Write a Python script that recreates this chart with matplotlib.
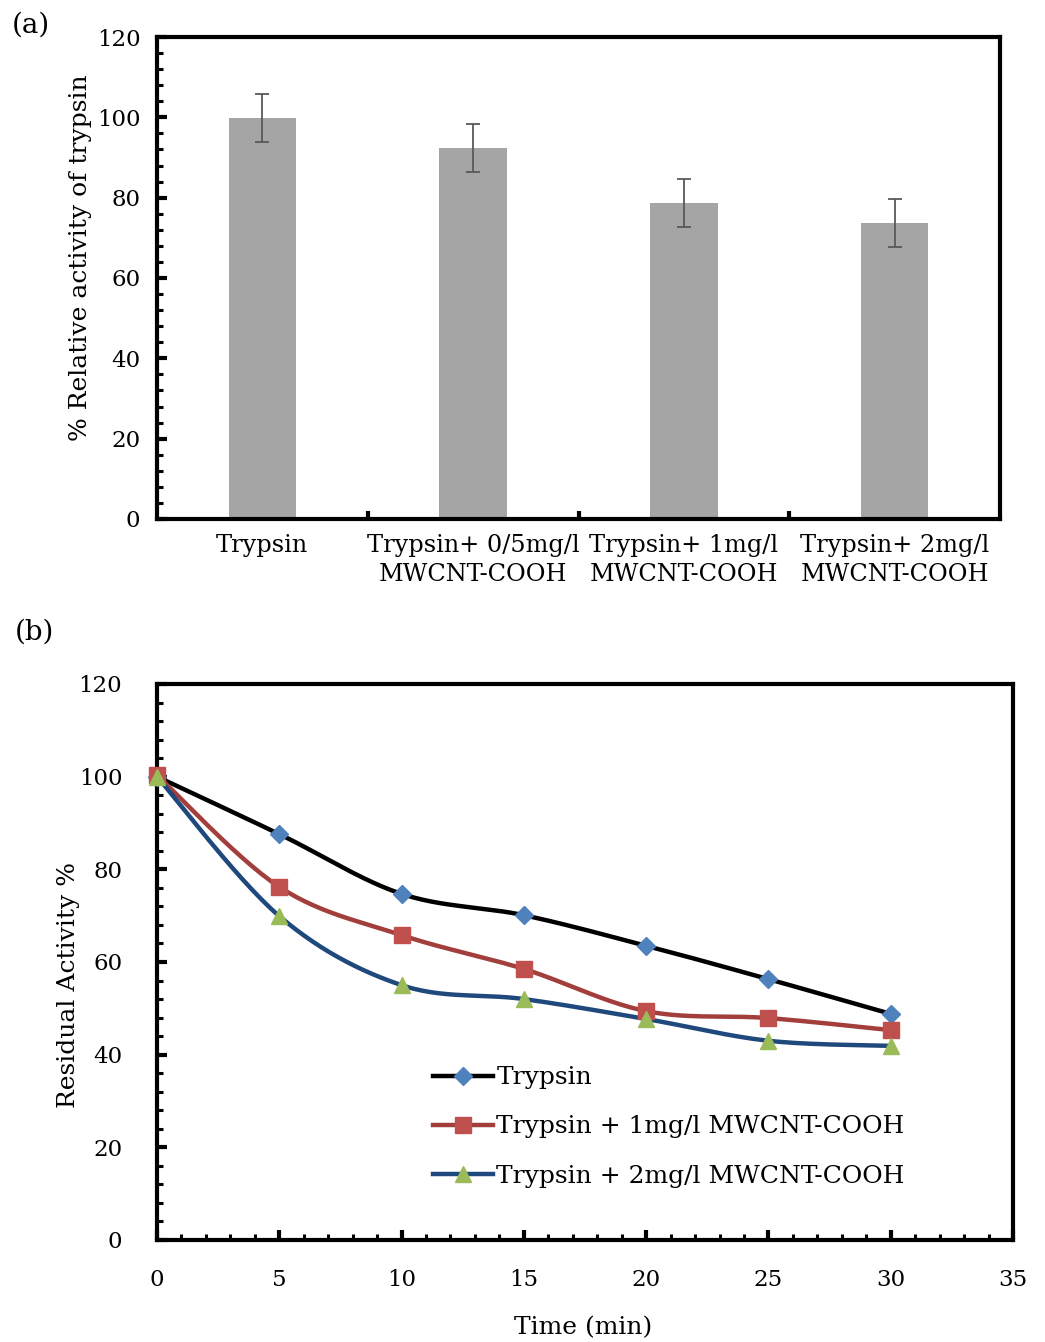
import numpy as np
import matplotlib
matplotlib.use("Agg")
import matplotlib.pyplot as plt
from matplotlib.ticker import MultipleLocator, FixedLocator
from matplotlib.lines import Line2D

plt.rcParams['font.family'] = ['DejaVu Serif']

# ---- Panel (a) data ----
categories = ["Trypsin", "Trypsin+ 0/5mg/l\nMWCNT-COOH", "Trypsin+ 1mg/l\nMWCNT-COOH", "Trypsin+ 2mg/l\nMWCNT-COOH"]
activity = [99.8, 92.3, 78.7, 73.6]
activity_err = [6, 6, 6, 6]

# ---- Panel (b) data ----
time_min = [0, 5, 10, 15, 20, 25, 30]
trypsin = [100, 87.6, 74.7, 70.1, 63.5, 56.3, 48.8]
trypsin_1mg = [100.3, 76.2, 65.8, 58.5, 49.4, 47.9, 45.3]
trypsin_2mg = [100, 69.9, 55.0, 52.0, 47.7, 43.0, 41.9]
series_labels = ["Trypsin", "Trypsin + 1mg/l MWCNT-COOH", "Trypsin + 2mg/l MWCNT-COOH"]


def smooth(x, y, n=30):
    """Excel-like smoothed line: cubic Bezier segments with Catmull-Rom control points."""
    x = np.asarray(x, float); y = np.asarray(y, float)
    P = np.column_stack([x, y])
    out = []
    t = np.linspace(0, 1, n)[:, None]
    for i in range(len(P) - 1):
        p0 = P[i - 1] if i > 0 else P[i]
        p1 = P[i]; p2 = P[i + 1]
        p3 = P[i + 2] if i + 2 < len(P) else P[i + 1]
        c1 = p1 + (p2 - p0) / 6.0
        c2 = p2 - (p3 - p1) / 6.0
        seg = (1 - t) ** 3 * p1 + 3 * (1 - t) ** 2 * t * c1 + 3 * (1 - t) * t ** 2 * c2 + t ** 3 * p2
        out.append(seg if i == 0 else seg[1:])
    s = np.vstack(out)
    return s[:, 0], s[:, 1]


W, H = 1045, 1342
fig = plt.figure(figsize=(W / 100, H / 100), dpi=100)

SPINE_LW = 3.0
TICK_FS = 16.5
LABEL_FS = 18

# ---------------- Panel (a) ----------------
axa = fig.add_axes([157 / W, 1 - 519 / H, (1000 - 157) / W, (519 - 37) / H])
xpos = np.arange(len(categories))
axa.bar(xpos, activity, width=0.32, color="#A5A5A5", zorder=2)
axa.errorbar(xpos, activity, yerr=activity_err, fmt="none", ecolor="#595959",
             elinewidth=1.3, capsize=5, capthick=1.3, zorder=3)
axa.set_xlim(-0.5, len(categories) - 0.5)
axa.set_ylim(0, 120)
axa.yaxis.set_major_locator(MultipleLocator(20))
axa.yaxis.set_minor_locator(MultipleLocator(4))
axa.xaxis.set_major_locator(FixedLocator(xpos))
axa.xaxis.set_minor_locator(FixedLocator(xpos[:-1] + 0.5))
axa.set_xticklabels(categories, fontsize=17.3, linespacing=1.3)
axa.tick_params(axis="x", which="major", length=0, pad=11)
axa.tick_params(axis="x", which="minor", direction="in", length=6, width=3)
axa.tick_params(axis="y", which="major", direction="in", length=7, width=3, labelsize=TICK_FS, pad=12)
axa.tick_params(axis="y", which="minor", direction="in", length=4, width=2.2)
for sp in axa.spines.values():
    sp.set_linewidth(SPINE_LW)
axa.set_ylabel("% Relative activity of trypsin", fontsize=LABEL_FS)
axa.yaxis.set_label_coords(-0.077, 0.5425)
fig.text(12 / W, 1 - 25 / H, "(a)", fontsize=20, va="center", ha="left")

# ---------------- Panel (b) ----------------
axb = fig.add_axes([157 / W, 1 - 1240 / H, (1013 - 157) / W, (1240 - 684) / H])
styles = [
    dict(line="#000000", mk="D", mfc="#4F81BD", ms=9),
    dict(line="#A23E3B", mk="s", mfc="#C0504D", ms=11),
    dict(line="#1F497D", mk="^", mfc="#9BBB59", ms=11),
]
handles = []
for yv, st, lab in zip([trypsin, trypsin_1mg, trypsin_2mg], styles, series_labels):
    sx, sy = smooth(time_min, yv)
    axb.plot(sx, sy, color=st["line"], lw=3.2, zorder=3, solid_capstyle="round")
    axb.plot(time_min, yv, ls="none", marker=st["mk"], ms=st["ms"], mfc=st["mfc"],
             mec=st["mfc"], zorder=4, clip_on=False)
    handles.append(Line2D([], [], color=st["line"], lw=3.2, marker=st["mk"], ms=st["ms"],
                          mfc=st["mfc"], mec=st["mfc"], label=lab))
axb.set_xlim(0, 35)
axb.set_ylim(0, 120)
axb.xaxis.set_major_locator(MultipleLocator(5))
axb.xaxis.set_minor_locator(MultipleLocator(1))
axb.yaxis.set_major_locator(MultipleLocator(20))
axb.yaxis.set_minor_locator(MultipleLocator(4))
axb.tick_params(axis="both", which="major", direction="in", length=7, width=3, labelsize=TICK_FS)
axb.tick_params(axis="both", which="minor", direction="in", length=4, width=2.2)
axb.tick_params(axis="y", which="major", pad=25)
axb.tick_params(axis="x", which="major", pad=21)
for sp in axb.spines.values():
    sp.set_linewidth(SPINE_LW)
axb.set_ylabel("Residual Activity %", fontsize=LABEL_FS)
axb.yaxis.set_label_coords(-0.090, 0.459)
axb.set_xlabel("Time (min)", fontsize=LABEL_FS, va="top")
axb.xaxis.set_label_coords(0.498, (1240 - 1316) / 556)
leg = axb.legend(handles=handles, loc="upper left", bbox_to_anchor=(0.322, 0.3125),
                 frameon=False, fontsize=18, handlelength=2.4, handletextpad=0.15,
                 labelspacing=1.05, borderpad=0, borderaxespad=0)
fig.text(15 / W, 1 - 632 / H, "(b)", fontsize=20, va="center", ha="left")

fig.savefig("out.png", dpi=100)
